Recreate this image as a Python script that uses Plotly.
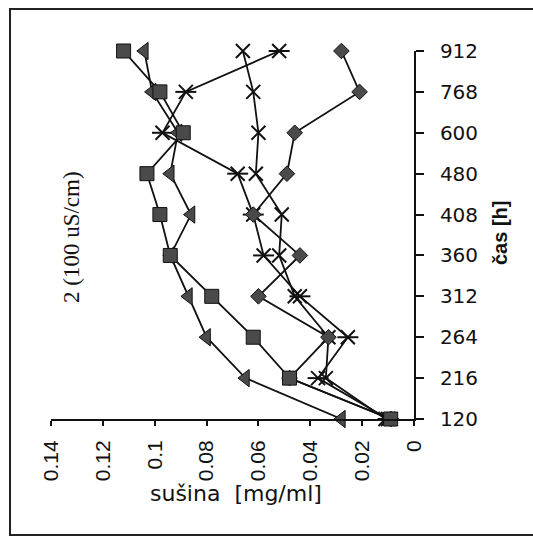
import plotly.graph_objects as go

W, H = 533, 544

times = ["120", "216", "264", "312", "360", "408", "480", "600", "768", "912"]
square_vals = [0.009, 0.048, 0.062, 0.078, 0.094, 0.098, 0.103, 0.089, 0.098, 0.112]
triangle_vals = [0.028, 0.065, 0.080, 0.087, 0.094, 0.086, 0.094, 0.091, 0.101, 0.104]
diamond_vals = [0.009, 0.048, 0.033, 0.060, 0.044, 0.062, 0.049, 0.046, 0.021, 0.028]
star_vals = [0.010, 0.037, 0.0255, 0.044, 0.058, 0.062, 0.068, 0.097, 0.088, 0.052]
cross_vals = [0.011, 0.034, 0.033, 0.046, 0.052, 0.051, 0.061, 0.060, 0.062, 0.066]

value_ticks = [0, 0.02, 0.04, 0.06, 0.08, 0.1, 0.12, 0.14]
value_labels = ["0", "0.02", "0.04", "0.06", "0.08", "0.1", "0.12", "0.14"]

LINE = dict(color="#111111", width=1.8)
FILL = "#4a4a4a"

fig = go.Figure()


def add(vals, symbol, size, fill, lw=1):
    fig.add_trace(go.Scatter(
        x=vals, y=times, mode="lines+markers", line=LINE,
        marker=dict(symbol=symbol, size=size, color=fill,
                    line=dict(color="#111111", width=lw)),
        showlegend=False, cliponaxis=False))


add(cross_vals, "x-thin-open", 14, "#111111", 2)
add(star_vals, "x-thin-open", 14, "#111111", 2)
fig.add_trace(go.Scatter(
    x=star_vals, y=times, mode="markers",
    marker=dict(symbol="line-ew-open", size=15, color="#111111",
                line=dict(color="#111111", width=2)),
    showlegend=False, cliponaxis=False))
add(diamond_vals, "diamond", 12, FILL)
add(triangle_vals, "triangle-left", 15, FILL)
add(square_vals, "square", 14, FILL)

x0, x1 = 51, 414
y0, y1 = 51, 419

fig.update_layout(
    template="none",
    width=W, height=H,
    margin=dict(l=0, r=0, t=0, b=0, pad=0),
    paper_bgcolor="white", plot_bgcolor="white",
    xaxis=dict(
        domain=[x0 / W, x1 / W], range=[0.14, 0], automargin=False,
        tickvals=value_ticks, ticktext=value_labels,
        tickangle=-90, ticks="outside", ticklen=5, tickwidth=1.6,
        tickcolor="#111111", showline=True, linecolor="#111111", linewidth=1.8,
        showgrid=False, zeroline=False,
        tickfont=dict(family="Liberation Sans, Arial", size=21, color="#111111"),
        ticklabelstandoff=6,
    ),
    yaxis=dict(
        domain=[1 - y1 / H, 1 - y0 / H], type="category", automargin=False,
        categoryorder="array", categoryarray=times, range=[0, 9],
        side="right", ticks="outside", ticklen=8, tickwidth=1.6,
        tickcolor="#111111", showline=True, linecolor="#111111", linewidth=1.8,
        showgrid=False, zeroline=False,
        tickfont=dict(family="DejaVu Sans", size=20, color="#111111"),
        ticklabelstandoff=12,
    ),
    annotations=[
        dict(text="2 (100 uS/cm)", x=71 / W, y=1 - 237 / H, xref="paper", yref="paper",
             xanchor="center", yanchor="middle",
             showarrow=False, textangle=-90,
             font=dict(family="Liberation Serif, Times New Roman", size=23, color="#111111")),
        dict(text="<b>čas [h]</b>", x=500 / W, y=1 - 233 / H, xref="paper", yref="paper",
             xanchor="center", yanchor="middle",
             showarrow=False, textangle=-90,
             font=dict(family="Liberation Sans, Arial", size=20, color="#111111")),
        dict(text="sušina  [mg/ml]", x=236 / W, y=1 - 493 / H, xref="paper", yref="paper",
             xanchor="center", yanchor="middle",
             showarrow=False,
             font=dict(family="DejaVu Sans", size=22, color="#111111")),
    ],
    shapes=[
        dict(type="rect", xref="paper", yref="paper",
             x0=10 / W, x1=545 / W, y0=1 - 535 / H, y1=1 - 9 / H,
             line=dict(color="#222222", width=2)),
    ],
)

fig.write_html("out.html")
